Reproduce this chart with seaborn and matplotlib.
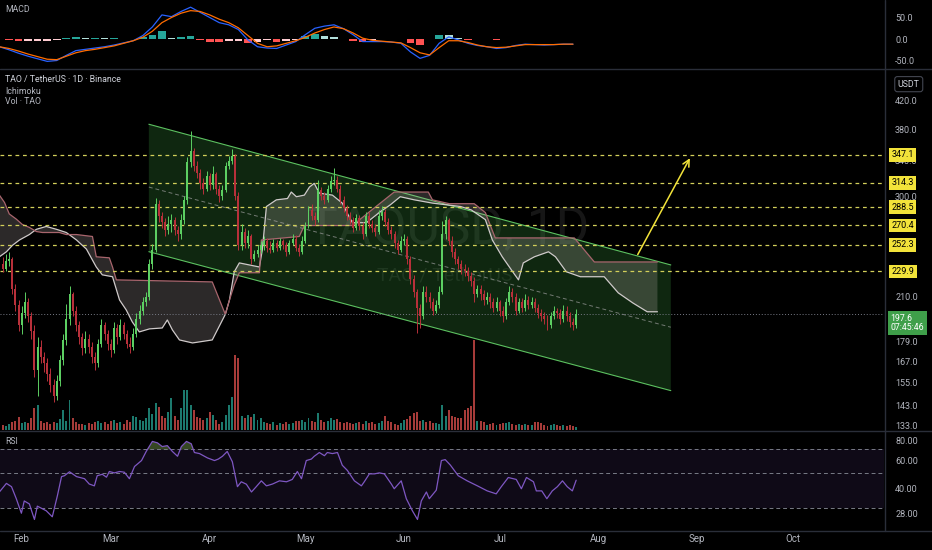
import numpy as np
import pandas as pd
import matplotlib
matplotlib.use("Agg")
import matplotlib.pyplot as plt
from matplotlib.lines import Line2D
from matplotlib.transforms import Bbox, blended_transform_factory
from matplotlib.ticker import NullLocator
import seaborn as sns

W, H = 932, 550
START = pd.Timestamp("2025-01-25")

# daily candles, day 0 = Jan 25
first_open = 232
closes = [
    236, 232, 238, 240, 216, 204, 190, 198, 206, 196,
    186, 162, 176, 170, 166, 160, 154, 148, 156, 168,
    180, 194, 212, 200, 190, 182, 175, 181, 176, 170,
    166, 178, 190, 184, 178, 174, 188, 182, 190, 184,
    178, 176, 184, 194, 200, 206, 210, 236, 248, 292,
    280, 274, 266, 272, 276, 266, 262, 276, 296, 338,
    352, 334, 326, 314, 308, 322, 312, 324, 308, 300,
    306, 334, 340, 346, 300, 252, 264, 254, 260, 240,
    244, 248, 252, 256, 250, 248, 254, 250, 256, 252,
    246, 254, 258, 250, 246, 256, 270, 286, 280, 276,
    306, 300, 296, 308, 316, 318, 308, 296, 288, 280,
    276, 268, 278, 270, 262, 280, 272, 268, 264, 280,
    284, 274, 266, 262, 254, 248, 256, 258, 240, 224,
    214, 202, 196, 214, 210, 206, 200, 204, 214, 262,
    276, 256, 246, 240, 236, 232, 230, 226, 222, 212,
    216, 212, 208, 210, 206, 202, 206, 200, 196, 206,
    214, 210, 200, 206, 202, 208, 204, 206, 202, 198,
    196, 194, 190, 196, 200, 198, 194, 200, 196, 192,
    190, 197.6,
]
highs = [
    240, 242, 244, 246, 242, 220, 208, 203, 214, 209,
    199, 190, 182, 180, 173, 169, 163, 157, 159, 171,
    184, 205, 218, 214, 203, 193, 185, 186, 184, 179,
    173, 181, 194, 192, 187, 181, 192, 191, 194, 192,
    187, 182, 188, 198, 204, 210, 214, 240, 253, 298,
    296, 284, 278, 280, 282, 279, 270, 282, 300, 345,
    378, 356, 340, 330, 320, 328, 326, 334, 327, 312,
    312, 338, 346, 354, 348, 304, 272, 268, 266, 262,
    248, 252, 256, 260, 259, 256, 258, 257, 259, 258,
    255, 257, 262, 261, 253, 260, 274, 290, 292, 284,
    318, 310, 304, 312, 322, 331, 322, 312, 300, 291,
    284, 279, 282, 281, 274, 284, 284, 276, 272, 286,
    290, 287, 278, 270, 265, 257, 260, 262, 260, 243,
    227, 216, 205, 218, 218, 214, 209, 208, 218, 275,
    280, 278, 260, 250, 243, 239, 236, 233, 229, 225,
    219, 219, 215, 214, 213, 209, 210, 208, 203, 209,
    218, 217, 213, 209, 209, 212, 211, 210, 209, 205,
    201, 199, 197, 199, 203, 202, 201, 204, 203, 199,
    195, 201,
]
lows = [
    228, 229, 230, 234, 212, 200, 186, 184, 195, 192,
    181, 158, 148, 166, 161, 156, 150, 145, 146, 153,
    165, 177, 190, 196, 186, 178, 171, 172, 172, 166,
    162, 164, 176, 180, 174, 170, 172, 178, 180, 181,
    175, 172, 174, 182, 191, 197, 203, 208, 232, 246,
    274, 268, 260, 262, 264, 261, 256, 258, 272, 292,
    332, 328, 320, 308, 302, 305, 306, 308, 302, 294,
    296, 304, 330, 336, 296, 248, 248, 250, 250, 236,
    238, 242, 245, 248, 246, 245, 246, 247, 248, 249,
    243, 244, 252, 247, 243, 244, 254, 268, 276, 271,
    274, 296, 292, 294, 304, 312, 304, 292, 284, 276,
    272, 264, 266, 266, 258, 260, 268, 264, 260, 262,
    276, 270, 262, 258, 250, 244, 246, 252, 236, 220,
    210, 185, 188, 194, 206, 202, 197, 198, 202, 212,
    258, 252, 242, 236, 232, 228, 226, 222, 218, 206,
    210, 208, 204, 205, 202, 199, 200, 196, 192, 194,
    204, 206, 197, 198, 199, 200, 201, 202, 199, 195,
    193, 191, 187, 188, 194, 195, 191, 192, 193, 189,
    187, 188,
]
volumes = [  # thousand TAO
    25, 25, 20, 30, 40, 45, 65, 35, 40, 35,
    60, 110, 125, 45, 35, 40, 30, 40, 35, 55,
    100, 45, 150, 60, 40, 30, 30, 25, 35, 30,
    40, 45, 35, 40, 30, 45, 50, 35, 40, 30,
    50, 40, 70, 65, 50, 45, 60, 110, 80, 135,
    115, 70, 60, 90, 160, 70, 50, 110, 200, 200,
    125, 100, 65, 60, 50, 60, 90, 75, 50, 30,
    40, 75, 125, 165, 375, 360, 70, 60, 75, 65,
    80, 50, 60, 40, 35, 30, 40, 25, 35, 30,
    40, 30, 35, 45, 45, 50, 40, 60, 45, 40,
    85, 50, 40, 45, 60, 50, 55, 40, 35, 40,
    35, 30, 35, 40, 30, 45, 35, 40, 30, 35,
    45, 70, 45, 40, 30, 25, 35, 50, 55, 70,
    85, 90, 45, 50, 40, 45, 35, 35, 30, 125,
    70, 100, 70, 65, 60, 60, 100, 110, 120, 450,
    45, 45, 40, 25, 30, 35, 25, 30, 35, 35,
    40, 30, 25, 30, 25, 30, 25, 25, 40, 40,
    35, 25, 20, 25, 30, 25, 20, 25, 20, 25,
    20, 15,
]

# ichimoku cloud edges (day, price)
span_a_days = [0.0, 2.2, 4.1, 6.3, 9.4, 11.6, 14.7, 17.9, 21.0, 24.2, 27.3, 30.4, 32.3,
               35.5, 37.7, 39.8, 41.7, 43.9, 47.1, 51.1, 52.7, 54.3, 56.5, 60.6, 66.8,
               70.0, 70.9, 72.2, 73.7, 75.3, 81.6, 82.5, 83.8, 86.9, 90.4, 91.6, 93.2,
               95.7, 97.3, 98.8, 100.4, 104.5, 107.6, 109.8, 110.8, 115.2, 119.2, 122.7,
               125.8, 130.2, 135.9, 144.7, 148.1, 152.5, 154.7, 157.8, 161.3, 162.9,
               164.4, 167.9, 172.3, 174.5, 177.9, 182.3, 189.8, 194.2, 198.8, 203.3, 206.5]
span_a = [242, 246.3, 252, 256.8, 261.8, 266.7, 269.4, 266.7, 263.7, 256.8, 248.7, 233.4, 227,
          225.5, 207.7, 200.5, 192.2, 185.5, 187.5, 188.1, 193.5, 186.8, 180.3, 178.4, 180.3,
          193.5, 197.4, 207.7, 229.5, 236.8, 233.4, 247.9, 289.1, 296, 297.4, 304.3, 299.3,
          301, 309.7, 313.8, 303.1, 301, 292.6, 278.5, 273, 273, 283, 290.9,
          299.3, 296, 292.6, 289.1, 285.6, 276, 256.8, 242, 228.7, 223,
          236.8, 242, 246.3, 242, 229.5, 225.5, 225.5, 213, 205.5, 199.2, 199.2]
span_b_days = [0.0, 1.6, 3.1, 5.3, 7.2, 9.4, 11.6, 13.5, 18.8, 21.0, 24.2, 29.2, 30.4,
               34.5, 35.5, 36.7, 66.8, 70.9, 72.2, 73.7, 75.3, 81.6, 82.2, 94.1, 95.7,
               110.8, 116.1, 123.9, 134.6, 135.9, 141.2, 149.0, 152.5, 155.6, 180.4,
               186.7, 206.5]
span_b = [301, 293.3, 281.6, 276.5, 271.3, 268.5, 264.6, 263.7, 263.7, 261.8, 261.8, 260, 242,
          241.1, 233.4, 223, 221.4, 197.4, 207.7, 219, 228.7, 228.7, 256.8, 260, 270.3,
          270.3, 283.7, 304.3, 304.3, 296, 292, 292, 283, 258.7, 258.7,
          237.6, 237.6]

# descending channel drawing
channel_days = [46.9, 210.7]
channel_top = [386.8, 235.1]
channel_mid = [309.7, 188.6]
channel_bot = [246.4, 150.7]
arrow_days = [199.9, 217.1]
arrow_prices = [241.8, 346.0]
levels = [347.1, 314.3, 288.5, 270.4, 252.3, 229.9]
last_price = 197.6
countdown = "07:45:46"

# MACD (every 3 days)
macd_days = list(range(0, 181, 3))
macd_line = [-18, -25, -33, -40, -46, -52, -50, -38, -27, -24, -21, -18, -14, -9, -4, 8,
             28, 56, 52, 64, 74, 62, 50, 38, 33, 22, -2, -18, -21, -22, -14, -6, 10, 25,
             30, 33, 24, 10, -6, -6, -6, -7, -10, -30, -45, -38, -10, 5, -2, -10, -15,
             -18, -22, -20, -15, -12, -13, -14, -13, -12, -12]
signal_line = [-18, -22, -28, -35, -41, -47, -48, -40, -32, -27, -24, -20, -16, -10, -4, 4,
               18, 38, 50, 60, 66, 64, 56, 46, 38, 26, 8, -10, -18, -16, -10, -4, 4, 14,
               22, 28, 24, 14, 2, -3, -5, -7, -9, -20, -32, -37, -20, -4, -4, -8, -14,
               -18, -20, -19, -16, -13, -13, -13, -13, -12, -12]

# RSI (day, value)
rsi_days = [0, 2.2, 3.8, 5.3, 6.9, 7.8, 9.4, 11.0, 11.9, 14.7, 16.6, 18.2, 19.5, 20.4, 22.0,
            24.2, 26.7, 28.2, 29.8, 30.7, 32.3, 33.6, 34.5, 36.1, 37.7, 39.2, 40.8, 42.4,
            44.6, 46.1, 48.0, 49.6, 51.1, 52.7, 54.3, 55.9, 57.1, 58.7, 60.2, 61.2, 62.8,
            65.3, 67.5, 68.7, 70.0, 71.5, 73.1, 74.7, 75.9, 77.5, 79.1, 80.6, 82.2, 83.8,
            85.7, 87.9, 90.1, 91.9, 93.5, 94.8, 96.3, 97.9, 98.8, 100.4, 102.0, 102.9,
            104.5, 106.1, 107.6, 109.2, 111.4, 113.6, 114.5, 116.1, 117.7, 119.2, 120.8,
            123.0, 123.9, 126.1, 127.7, 129.6, 131.2, 132.4, 134.0, 134.9, 137.1, 138.7,
            139.9, 141.5, 144.0, 146.8, 150.0, 153.1, 155.9, 157.5, 159.7, 162.2, 163.8,
            165.4, 167.6, 168.5, 170.2, 171.8, 173.5, 175.1, 176.7, 178.2, 179.8, 181.0]
rsi_vals = [38, 43, 41, 34.5, 28, 33.4, 32, 25.6, 31, 29, 26.6, 36, 47.4, 48, 50.8,
            47.4, 46, 42.6, 41.5, 48, 49, 47, 51, 50, 51, 50.5, 46, 54.8,
            59.7, 68.2, 78.6, 77, 73, 74, 68, 63.5, 73, 78.6, 76, 67, 66,
            62, 59.7, 61, 63.5, 68, 58.7, 41, 44, 42.5, 38, 41, 44.6, 41.5,
            42.6, 44.6, 44, 45.5, 51, 46, 59.7, 61, 63.5, 67, 64, 67,
            66, 67, 55.8, 51.8, 44.6, 41.5, 44, 49.3, 49.3, 50, 49.3,
            42.6, 39.8, 44.6, 34.5, 29, 25.6, 33.4, 38, 34.5, 39, 59.7,
            60.5, 56, 48, 44.6, 41.5, 38.6, 37, 41, 46.8, 45.5, 39.8,
            46.8, 44, 38.6, 38.6, 34.5, 38.6, 41, 44.6, 41, 38.6, 45]

price_ticks = [420, 380, 340, 300, 210, 179, 167, 155, 143, 133]
macd_ticks = [50, 0, -50]
rsi_ticks = [80, 60, 40, 28]
month_names = ["Feb", "Mar", "Apr", "May", "Jun", "Jul", "Aug", "Sep", "Oct", "Nov"]

# colours
BG = "#000000"
SEP = "#2a2e39"
GRAY = "#b2b5be"
UP = "#5ccf62"
DOWN = "#b8303a"
VOL_UP = "#1c7a6e"
VOL_DOWN = "#a63b39"
YELLOW = "#f2e33a"

sns.set_style("dark", {"axes.facecolor": BG, "figure.facecolor": BG})
plt.rcParams["font.family"] = ["Roboto", "DejaVu Sans"]

fig = plt.figure(figsize=(W / 100, H / 100), dpi=100)
fig.patch.set_facecolor(BG)


def px_axes(x0, y0, x1, y1):
    return fig.add_axes([x0 / W, 1 - y1 / H, (x1 - x0) / W, (y1 - y0) / H])


ax_macd = px_axes(0, 0, 884, 68)
ax = px_axes(0, 69, 884, 430)
ax_rsi = px_axes(0, 431, 884, 530)
XLIM = (0.19, 277.6)

days = np.arange(len(closes))
c = np.array(closes, dtype=float)
o = np.array([first_open] + closes[:-1], dtype=float)
up = c >= o

# volume on a twin axis, behind the candles
vax = ax.twinx()
vax.bar(days, volumes, width=0.62, color=np.where(up, VOL_UP, VOL_DOWN), linewidth=0)
vax.set_ylim(0, max(volumes) * 361 / 90)
vax.set_axis_off()
ax.set_zorder(vax.get_zorder() + 1)
ax.patch.set_alpha(0)

# watermark (behind everything in the price pane)
ax.text(448 / 884, (430 - 230) / 361, "TAOUSD, 1D", transform=ax.transAxes, ha="center",
        va="center", fontsize=37, color="white", alpha=0.09, zorder=0)
ax.text(445 / 884, (430 - 275) / 361, "TAO / TetherUS", transform=ax.transAxes, ha="center",
        va="center", fontsize=14, color="white", alpha=0.09, zorder=0)

# channel
ax.fill([channel_days[0], channel_days[1], channel_days[1], channel_days[0]],
        [channel_top[0], channel_top[1], channel_bot[1], channel_bot[0]],
        color="#3c9a40", alpha=0.26, lw=0, zorder=1)
ax.plot(channel_days, channel_top, color="#5cc160", lw=0.8, zorder=2)
ax.plot(channel_days, channel_bot, color="#5cc160", lw=0.8, zorder=2)
ax.plot(channel_days, channel_mid, color="#9e9e9e", lw=0.7, ls=(0, (4, 3)), alpha=0.7, zorder=2)

# ichimoku cloud
ax.fill(np.concatenate([span_a_days, span_b_days[::-1]]),
        np.concatenate([span_a, span_b[::-1]]),
        color="#cdbcbc", alpha=0.22, lw=0, zorder=2)
sns.lineplot(x=span_a_days, y=span_a, ax=ax, color="#cfcaca", lw=0.9,
             estimator=None, sort=False, zorder=3)
sns.lineplot(x=span_b_days, y=span_b, ax=ax, color="#a8656d", lw=0.9,
             estimator=None, sort=False, zorder=3)

# levels
for lv in levels:
    ax.axhline(lv, color="#d2cf5a", lw=0.9, ls=(0, (3, 3)), zorder=3)
ax.axhline(last_price, color="#787b86", lw=0.7, ls=(0, (1, 2)), zorder=3)

# candles
col = np.where(up, UP, DOWN)
ax.vlines(days, lows, highs, colors=col, lw=0.7, zorder=4)
ax.bar(days, np.maximum(np.abs(c - o), 0.5), bottom=np.minimum(o, c), width=0.62,
       color=col, linewidth=0, zorder=5)

ax.annotate("", xy=(arrow_days[1], arrow_prices[1]), xytext=(arrow_days[0], arrow_prices[0]),
            arrowprops=dict(arrowstyle="->", color=YELLOW, lw=1.1, mutation_scale=12),
            zorder=6)

ax.set_yscale("log")
ax.set_ylim(131.1, 470.3)

# MACD panel
hist = np.array(macd_line) - np.array(signal_line)
prev = np.concatenate([[hist[0]], hist[:-1]])
hcol = np.where(hist >= 0, np.where(hist >= prev, "#26a69a", "#b2dfdb"),
                np.where(hist >= prev, "#ffcdd2", "#ff5252"))
ax_macd.bar(macd_days, hist, width=2.4, color=hcol, linewidth=0)
sns.lineplot(x=macd_days, y=macd_line, ax=ax_macd, color="#2962ff", lw=0.9, estimator=None)
sns.lineplot(x=macd_days, y=signal_line, ax=ax_macd, color="#ff6d00", lw=0.9, estimator=None)
ax_macd.set_ylim(-67.4, 90.7)

# RSI panel
ax_rsi.set_yscale("log")
ax_rsi.axhspan(30, 70, color="#7e57c2", alpha=0.12, lw=0)
for lv in (70, 50, 30):
    ax_rsi.axhline(lv, color="#787b86", lw=0.7, ls=(0, (4, 3)))
rd = np.array(rsi_days)
rv = np.array(rsi_vals)
ax_rsi.fill_between(rd, rv, 70, where=rv > 70, interpolate=True, color="#9ccc65", alpha=0.35, lw=0)
sns.lineplot(x=rsi_days, y=rsi_vals, ax=ax_rsi, color="#7e57c2", lw=0.9, estimator=None)
ax_rsi.set_ylim(22.0, 91.3)

# axes cosmetics
for a in (ax_macd, ax, ax_rsi):
    a.set_xlim(*XLIM)
    a.set_facecolor(BG)
    a.grid(False)
    a.set_xlabel("")
    a.set_ylabel("")
    for s in a.spines.values():
        s.set_visible(False)
    a.yaxis.tick_right()
    a.tick_params(axis="y", length=0, pad=8, labelsize=6.5, labelcolor=GRAY)
    a.tick_params(axis="x", length=0)
ax.patch.set_alpha(0)

ax.set_yticks(price_ticks)
ax.set_yticklabels([f"{t:.1f}" for t in price_ticks])
ax.yaxis.set_minor_locator(NullLocator())
ax_macd.set_yticks(macd_ticks)
ax_macd.set_yticklabels([f"{t:.1f}" for t in macd_ticks])
ax_rsi.set_yticks(rsi_ticks)
ax_rsi.set_yticklabels([f"{t:.2f}" for t in rsi_ticks])
ax_rsi.yaxis.set_minor_locator(NullLocator())
ax_macd.set_xticks([])
ax.set_xticks([])

month_days = [(pd.Timestamp(2025, m, 1) - START).days for m in range(2, 12)]
ax_rsi.set_xticks(month_days[:-1])
ax_rsi.set_xticklabels(month_names[:-1])
ax_rsi.tick_params(axis="x", labelsize=7, labelcolor=GRAY, pad=3)
nov = ax_rsi.text(month_days[-1], -0.08, month_names[-1], transform=blended_transform_factory(
    ax_rsi.transData, ax_rsi.transAxes), ha="center", va="center", fontsize=7, color=GRAY)
nov.set_clip_box(Bbox.from_extents(0, 0, 884, H))
nov.set_clip_on(True)

# price scale boxes
tr = blended_transform_factory(ax.transAxes, ax.transData)
for lv in levels:
    ax.text(1.0085, lv, f"{lv:.1f}", transform=tr, ha="left", va="center", fontsize=6.5,
            color="black", zorder=10, clip_on=False,
            bbox=dict(boxstyle="square,pad=0.25", fc=YELLOW, ec="none"))
ax.text(1.0075, last_price, f"{last_price:.1f}\n{countdown}", transform=tr, ha="left",
        va="top", fontsize=6.3, color="white", zorder=10, clip_on=False, linespacing=1.05,
        bbox=dict(boxstyle="square,pad=0.3", fc="#3f9f4a", ec="none"))
ax.text(1.028, 0.958, "USDT", transform=ax.transAxes, ha="center", va="center", fontsize=6.3,
        color="#d1d4dc", clip_on=False,
        bbox=dict(boxstyle="round,pad=0.35,rounding_size=0.3", fc=BG, ec="#434651", lw=0.8))

# legends
fig.text(5 / W, 1 - 10 / H, "MACD", fontsize=6.3, color=GRAY, va="center")
fig.text(5 / W, 1 - 80 / H, "TAO / TetherUS · 1D · Binance", fontsize=6.3, color="#d1d4dc", va="center")
fig.text(5 / W, 1 - 91 / H, "Ichimoku", fontsize=6.3, color=GRAY, va="center")
fig.text(5 / W, 1 - 102 / H, "Vol · TAO", fontsize=6.3, color=GRAY, va="center")
fig.text(5 / W, 1 - 441 / H, "RSI", fontsize=6.3, color=GRAY, va="center")

# panel separators
for yy in (68.5, 430.5, 531):
    fig.add_artist(Line2D([0, 1], [1 - yy / H] * 2, color=SEP, lw=1))
fig.add_artist(Line2D([884.5 / W] * 2, [1 - 531 / H, 1], color=SEP, lw=1))

fig.savefig("out.png", dpi=100, facecolor=BG)
